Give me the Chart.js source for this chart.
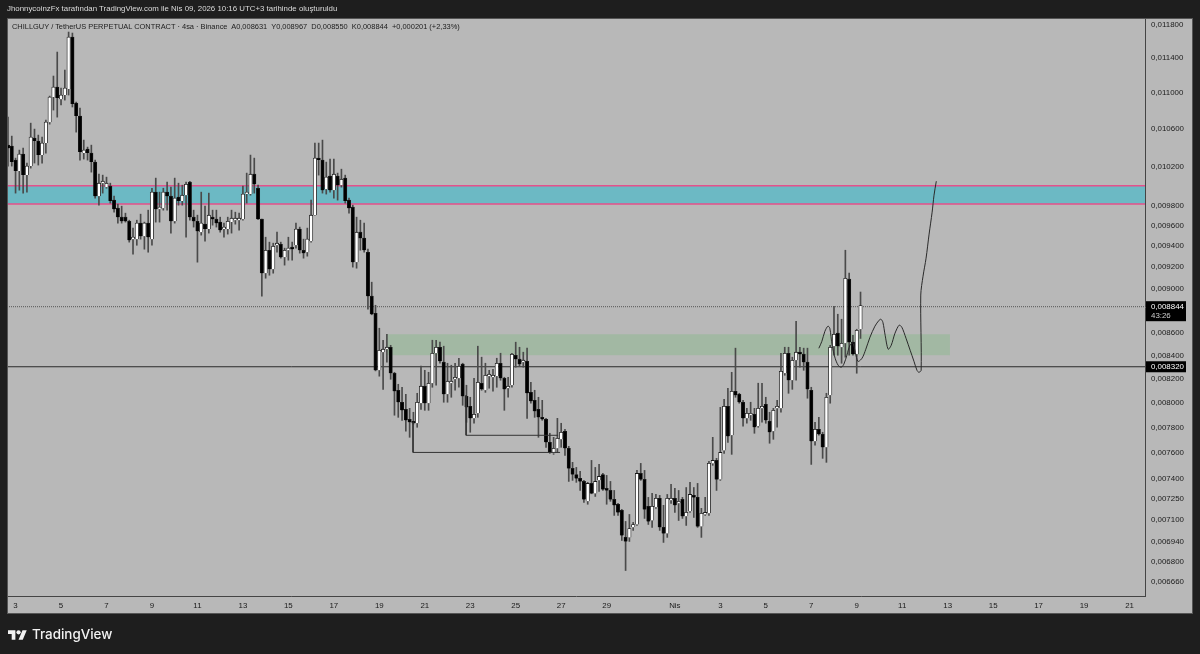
<!DOCTYPE html>
<html>
<head>
<meta charset="utf-8">
<script src="https://cdn.jsdelivr.net/npm/chart.js@4/dist/chart.umd.min.js"></script>
<style>
html,body{margin:0;padding:0;background:#1e1e1e;overflow:hidden;width:1200px;height:654px}
canvas{position:absolute;left:0;top:0}
.t{position:absolute;white-space:pre;font-family:"Liberation Sans",sans-serif}
#head{left:7px;top:4px;font-size:7.87px;line-height:10px;color:#dcdcdc}
#info{left:12px;top:22px;font-size:7.45px;line-height:10px;color:#1c1c1c}
#brand{left:32px;top:625px;font-family:Inter,sans-serif;font-weight:500;font-size:13.4px;line-height:18px;color:#f2f2f2}
#logo{position:absolute;left:8px;top:628px}
</style>
</head>
<body>
<canvas id="chart" width="1200" height="654"></canvas>
<div class="t" id="head">JhonnycoinzFx tarafından TradingView.com ile Nis 09, 2026 10:16 UTC+3 tarihinde oluşturuldu</div>
<div class="t" id="info">CHILLGUY / TetherUS PERPETUAL CONTRACT · 4sa · Binance  A0,008631  Y0,008967  D0,008550  K0,008844  +0,000201 (+2,33%)</div>
<svg id="logo" width="19" height="15" viewBox="0 0 36 28"><path fill="#f2f2f2" d="M14 22H7V11H0V4h14v18zM28 22h-8l7.5-18h8L28 22z"/><circle fill="#f2f2f2" cx="20" cy="8" r="4"/></svg>
<div class="t" id="brand">TradingView</div>
<script>
// prices are in millionths of USDT, one candle per 4 hours
const opens = [
10426,10416,10267,10152,10331,10110,10204,10501,10469,10320,
10448,10675,10953,11066,10930,10976,11043,11649,10886,10742,
10341,10384,10341,10246,9894,10027,9986,9996,9854,9773,
9683,9683,9643,9467,9467,9624,9496,9624,9467,9935,
9763,9773,9935,9894,9643,9884,9844,9904,10037,9683,
9643,9535,9614,9565,9683,9663,9634,9565,9565,9634,
9653,9653,9663,9915,9915,10120,9975,9663,9142,9360,
9180,9408,9418,9293,9360,9389,9408,9565,9360,9341,
9447,9703,10288,10267,9965,10100,9955,10100,10006,10079,
9854,9783,9246,9535,9477,9341,8929,8774,8275,8430,
8456,8473,8250,8107,8008,7950,7869,7853,7837,8000,
8141,8000,8166,8421,8473,8344,8074,8166,8199,8208,
8327,8057,7975,7877,7918,8166,8107,8225,8216,8225,
8335,8208,8124,8149,8404,8370,8344,8352,8090,8024,
7950,7885,7869,7685,7599,7638,7709,7773,7638,7482,
7436,7406,7383,7234,7368,7293,7391,7436,7330,7315,
7248,7212,7167,6971,6971,7043,7064,7444,7398,7197,
7093,7189,7256,7043,6999,7241,7256,7219,7248,7123,
7160,7278,7263,7050,7137,7145,7521,7544,7398,7622,
7975,7741,8099,8074,8008,7877,7902,7910,7813,7958,
7991,7853,7773,7958,7958,8250,8421,8191,8361,8430,
8413,8344,8107,7693,7789,7749,7646,8066,8482,8596,
8473,8508,9086,8517,8413,8631];
const highs = [
10730,10523,10288,10373,10394,10236,10664,10599,10534,10512,
10697,10964,11192,11471,11055,11261,11709,11697,10897,10830,
10480,10405,10426,10267,10120,10110,10089,10027,9894,9814,
9793,9723,9653,9575,9653,9713,9634,9753,9975,10079,
9935,9975,10037,9986,10079,10027,10006,10037,10047,9753,
9703,9935,9793,9925,9753,9753,9683,9624,9683,9753,
9733,9723,9996,10131,10320,10288,10006,9663,9486,9438,
9428,9535,9438,9380,9486,9438,9624,9585,9467,9575,
9854,10448,10448,10480,10246,10278,10278,10131,10172,10110,
9874,9803,9683,9653,9624,9370,9058,8846,8640,8534,
8587,8490,8258,8157,8132,8074,7958,7926,8082,8310,
8275,8258,8534,8534,8517,8482,8335,8318,8335,8378,
8335,8149,8049,8208,8482,8387,8335,8275,8284,8378,
8421,8216,8216,8421,8517,8473,8430,8465,8174,8107,
8049,8024,7877,7757,7725,7877,7837,7789,7654,7529,
7490,7459,7391,7376,7544,7490,7513,7444,7429,7383,
7315,7219,7174,7086,7137,7079,7467,7521,7467,7263,
7293,7285,7278,7204,7285,7361,7330,7315,7263,7337,
7376,7337,7368,7182,7263,7536,7725,7560,7966,8032,
8124,8258,8465,8082,8024,7958,8008,7958,8166,8166,
8049,7926,7958,8024,8421,8473,8473,8387,8702,8473,
8465,8465,8132,7845,7885,7765,8082,8490,8837,8765,
8720,9360,9142,8578,8631,8967];
const lows = [
10204,10204,9925,9955,9925,9935,10183,10236,10215,10236,
10341,10653,10808,10730,10864,10919,10976,10842,10566,10267,
10278,10267,10141,9874,9803,9925,9975,9824,9733,9624,
9624,9634,9438,9322,9408,9467,9370,9341,9408,9634,
9634,9753,9753,9526,9624,9803,9803,9486,9653,9585,
9246,9506,9447,9526,9604,9585,9535,9486,9516,9526,
9614,9555,9653,9824,9904,9925,9660,8929,9095,9123,
9142,9341,9284,9218,9265,9265,9380,9332,9284,9303,
9438,9700,10110,9925,9915,9935,9874,9854,9986,9824,
9723,9199,9189,9360,9341,8810,8760,8270,8225,8115,
8344,8199,7902,7885,7861,7773,7725,7830,7805,7950,
7942,7942,8132,8149,8335,8008,8008,8049,8107,8132,
7983,7845,7765,7837,7885,8107,8090,8124,8099,8132,
8191,7942,8049,8132,8301,8310,8301,7877,8000,7885,
7725,7861,7646,7599,7591,7606,7646,7583,7383,7391,
7376,7315,7226,7212,7290,7270,7308,7315,7212,7234,
7130,7130,6949,6738,6942,7021,7057,7391,7108,7064,
7043,7182,7021,6935,6971,7219,7152,7093,7108,7057,
7152,7115,7043,6971,7130,7130,7506,7315,7391,7599,
7685,7591,8049,8000,7813,7837,7861,7757,7805,7845,
7837,7678,7709,7805,7926,8233,8082,8115,8191,8301,
8275,8041,7513,7662,7741,7560,7529,8000,8404,8404,
8335,8387,8404,8404,8250,8550];
const closes = [
10394,10246,10152,10331,10110,10204,10512,10469,10320,10448,
10675,10953,11066,10942,10976,11055,11649,10875,10742,10352,
10373,10341,10246,9894,10027,10037,10027,9844,9763,9683,
9643,9643,9457,9477,9624,9496,9624,9486,9935,9763,
9773,9935,9894,9643,9874,9844,9904,10016,9683,9643,
9545,9624,9565,9703,9663,9624,9555,9575,9643,9673,
9663,9663,9915,9935,10120,10016,9663,9142,9360,9180,
9399,9428,9293,9360,9380,9370,9565,9360,9332,9467,
9703,10288,10267,9955,10089,9955,10120,10006,10068,9844,
9773,9246,9535,9477,9360,8929,8765,8275,8447,8456,
8473,8250,8099,8008,7942,7861,7845,7837,8008,8141,
8000,8166,8421,8473,8352,8074,8183,8183,8208,8309,
8057,7966,7877,7910,8174,8115,8233,8233,8225,8335,
8208,8115,8141,8413,8370,8327,8352,8082,8016,7934,
7885,7869,7685,7606,7638,7717,7765,7638,7482,7436,
7406,7383,7248,7368,7293,7383,7421,7323,7315,7248,
7204,7152,6985,6942,7035,7064,7444,7398,7174,7086,
7197,7256,7043,6999,7256,7248,7204,7234,7123,7152,
7285,7263,7050,7145,7145,7521,7544,7398,7606,7975,
7733,8099,8066,8008,7877,7918,7910,7805,7958,7975,
7861,7765,7942,7966,8267,8421,8191,8361,8430,8413,
8344,8115,7693,7789,7749,7646,8049,8473,8587,8482,
8508,9095,8517,8413,8622,8844];

const yTickValues = [11800,11400,11000,10600,10200,9800,9600,9400,9200,9000,8600,8400,8200,8000,7800,7600,7400,7250,7100,6940,6800,6660];
const yTickLabels = ['0,011800','0,011400','0,011000','0,010600','0,010200','0,009800','0,009600','0,009400','0,009200','0,009000','0,008600','0,008400','0,008200','0,008000','0,007800','0,007600','0,007400','0,007250','0,007100','0,006940','0,006800','0,006660'];
const xTickValues = [2,14,26,38,50,62,74,86,98,110,122,134,146,158,176,188,200,212,224,236,248,260,272,284,296];
const xTickLabels = ['3','5','7','9','11','13','15','17','19','21','23','25','27','29','Nis','3','5','7','9','11','13','15','17','19','21'];

// level heights as they sit on the picture
const lastPrice = 8833;
const lineLevel = 8305;
const blueZone = [10000,9814];
const greenZone = [8587,8404];
const greenZoneFrom = 100, greenZoneTo = 248.6;
const xMin = -0.26, xMax = 300.08;
const yMin = 6564, yMax = 11879;

// hand drawn bits
const boxAx = [106.9,106.9,145.7], boxAy = [7845,7606,7606];
const boxBx = [120.9,120.9,145.2], boxBy = [8066,7741,7741];
const sketchX = [214,214.8,215.6,216.4,216.9,217.5,218.3,219.1,219.9,220.6,221.4,222.2,223,224.3,225.4,226.4,227.5,228.8,229.9,230.4,230.9,231.5,232.3,233.1,234.1,235.2,235.9,237,238.1,239.1,239.9,240.4,241,240.9,241.5,242.3,243.1,243.9,244.4,245];
const sketchY = [8464,8525,8613,8658,8640,8490,8378,8318,8301,8327,8404,8490,8508,8352,8378,8456,8561,8658,8711,8720,8693,8578,8456,8490,8596,8667,8649,8552,8447,8352,8275,8258,8275,8939,9114,9284,9516,9733,9904,10047];

const pts = (xs,ys) => xs.map((x,i)=>({x:x,y:ys[i]}));
const wicks = highs.map((h,i)=>({x:i,y:[lows[i],h]}));
const bodies = opens.map((o,i)=>({x:i,y:[o,closes[i]]}));
const bodyColors = opens.map((o,i)=>closes[i]>=o ? '#ffffff' : '#000000');

const lineDs = (data,color,width,order,extra) => Object.assign({
    type:'line',data:data,borderColor:color,borderWidth:width,pointRadius:0,tension:0,order:order,fill:false
},extra||{});

const panel = {
    id:'panel',
    beforeDraw(c){
        c.ctx.fillStyle='#b8b8b8';
        c.ctx.fillRect(7,18,1186,596);
    },
    afterDraw(c){
        const ctx=c.ctx, y=c.scales.y;
        const tag=(v,h,dy,lines)=>{
            const py=y.getPixelForValue(v);
            ctx.fillStyle='#000';
            ctx.fillRect(1146,py-dy,40,h);
            ctx.font='7.9px "Liberation Sans"';
            ctx.textAlign='left';ctx.textBaseline='middle';
            lines.forEach((t,i)=>{
                ctx.fillStyle=i?'#ccc':'#fff';
                ctx.fillText(t,1151,py-dy+5.5+i*9.5);
            });
        };
        tag(lastPrice,20,5.5,['0,008844','43:26']);
        tag(lineLevel,11,5.5,['0,008320']);
        ctx.strokeStyle='#555';
        ctx.strokeRect(7.5,18.5,1185,595);
    }
};

new Chart(document.getElementById('chart'),{
    data:{datasets:[
        lineDs(pts([xMin,xMax],[blueZone[0],blueZone[0]]),'#e5508a',1.5,20,{fill:'+1',backgroundColor:'#6cb9c4'}),
        lineDs(pts([xMin,xMax],[blueZone[1],blueZone[1]]),'#e5508a',1.5,19),
        lineDs(pts([greenZoneFrom,greenZoneTo],[greenZone[0],greenZone[0]]),'rgba(0,0,0,0)',0,18,{fill:'+1',backgroundColor:'#a2b8a3'}),
        lineDs(pts([greenZoneFrom,greenZoneTo],[greenZone[1],greenZone[1]]),'rgba(0,0,0,0)',0,17),
        lineDs(pts([xMin,xMax],[lastPrice,lastPrice]),'#555',1,16,{borderDash:[1,1]}),
        lineDs(pts([xMin,xMax],[lineLevel,lineLevel]),'#2a2a2a',1,15),
        {type:'bar',data:wicks,backgroundColor:'#4a4a4a',barThickness:1,grouped:false,order:10},
        {type:'bar',data:bodies,backgroundColor:bodyColors,borderColor:'#1a1a1a',borderWidth:0.8,barThickness:3.4,minBarLength:2,grouped:false,order:9},
        lineDs(pts(boxAx,boxAy),'#333',1,3),
        lineDs(pts(boxBx,boxBy),'#333',1,2),
        lineDs(pts(sketchX,sketchY),'#2a2a2a',1,1,{tension:0.3})
    ]},
    options:{
        responsive:false,
        animation:false,
        events:[],
        layout:{padding:{left:7,right:7,top:18,bottom:40}},
        plugins:{legend:{display:false},tooltip:{enabled:false},title:{display:false}},
        scales:{
            x:{
                type:'linear',min:xMin,max:xMax,bounds:'data',offset:false,
                grid:{display:false,drawTicks:false},
                border:{display:true,color:'#444',width:1},
                afterBuildTicks(s){s.ticks=xTickValues.map(v=>({value:v}));},
                afterFit(s){s.height=18;},
                ticks:{
                    autoSkip:false,maxRotation:0,padding:5,color:'#1a1a1a',
                    font:{family:'Liberation Sans',size:7.9},
                    callback(v){return xTickLabels[xTickValues.indexOf(v)];}
                }
            },
            y:{
                type:'logarithmic',position:'right',min:yMin,max:yMax,bounds:'data',
                grid:{display:false,drawTicks:false},
                border:{display:true,color:'#444',width:1},
                afterBuildTicks(s){s.ticks=yTickValues.map(v=>({value:v}));},
                afterFit(s){s.width=48;},
                ticks:{
                    autoSkip:false,padding:6,color:'#1a1a1a',
                    font:{family:'Liberation Sans',size:7.9},
                    callback(v){return yTickLabels[yTickValues.indexOf(v)];}
                }
            }
        }
    },
    plugins:[panel]
});
</script>
</body>
</html>
